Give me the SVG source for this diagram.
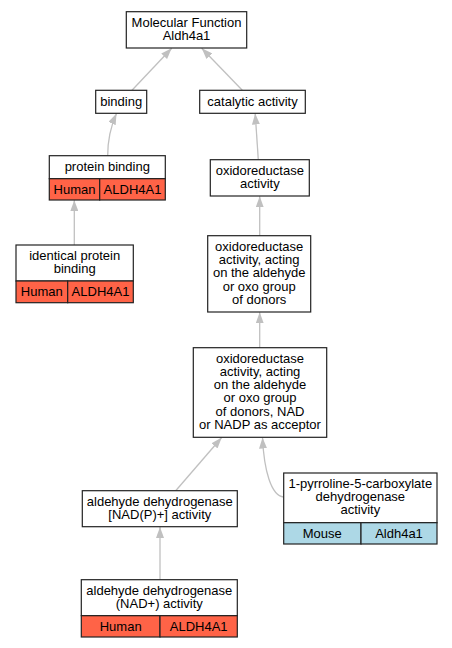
<svg xmlns="http://www.w3.org/2000/svg" width="452" height="648" viewBox="0 0 452 648">
<style>
text{font-family:"Liberation Sans",Arial,sans-serif;font-size:13px;fill:#000;text-anchor:middle}
.box{fill:#fff;stroke:#222;stroke-width:1.2}
.red{fill:#ff6347;stroke:#222;stroke-width:1.2}
.blue{fill:#add8e6;stroke:#222;stroke-width:1.2}
.edge{fill:none;stroke:#c0c0c0;stroke-width:1.3}
</style>
<defs>
<marker id="arr" markerUnits="userSpaceOnUse" markerWidth="11" markerHeight="8" refX="11" refY="4" orient="auto">
<path d="M0,0 L11,4 L0,8 z" fill="#c0c0c0"/>
</marker>
</defs>
<rect width="452" height="648" fill="#fff"/>
<g id="edges">
<path class="edge" marker-end="url(#arr)" d="M132,90.3 L171.7,48.3"/>
<path class="edge" marker-end="url(#arr)" d="M242.3,90.3 L201.7,48.3"/>
<path class="edge" marker-end="url(#arr)" d="M107.7,155.7 C107.7,140 110,128 116.5,113.5"/>
<path class="edge" marker-end="url(#arr)" d="M258.3,159.7 L255.2,113.5"/>
<path class="edge" marker-end="url(#arr)" d="M74.3,245 L74.3,200.2"/>
<path class="edge" marker-end="url(#arr)" d="M259.7,235.7 L259.7,196.2"/>
<path class="edge" marker-end="url(#arr)" d="M259.7,347.7 L259.7,312.2"/>
<path class="edge" marker-end="url(#arr)" d="M175.7,490.7 L221.7,437.5"/>
<path class="edge" marker-end="url(#arr)" d="M283.7,497 C271,496 264,470 262.5,437.5"/>
<path class="edge" marker-end="url(#arr)" d="M160,579.7 L160,527"/>
</g>
<g id="n_mf">
<rect class="box" x="126.3" y="11.7" width="120.4" height="36.3"/>
<text x="186.5" y="26.5">Molecular Function</text>
<text x="186.5" y="39.5">Aldh4a1</text>
</g>
<g id="n_binding">
<rect class="box" x="95.7" y="90.3" width="51" height="23"/>
<text x="121.2" y="106">binding</text>
</g>
<g id="n_catalytic">
<rect class="box" x="199.7" y="90.3" width="105.6" height="23"/>
<text x="252.5" y="106">catalytic activity</text>
</g>
<g id="n_protein_binding">
<rect class="box" x="49.3" y="155.7" width="116" height="23"/>
<rect class="red" x="49.3" y="178.7" width="50.4" height="21.3"/>
<rect class="red" x="99.7" y="178.7" width="65.6" height="21.3"/>
<text x="107.3" y="170.5">protein binding</text>
<text x="74.5" y="193.5">Human</text>
<text x="132.5" y="193.5">ALDH4A1</text>
</g>
<g id="n_oxido">
<rect class="box" x="210.3" y="159.7" width="99" height="36.3"/>
<text x="259.8" y="174.5">oxidoreductase</text>
<text x="259.8" y="187.8">activity</text>
</g>
<g id="n_identical">
<rect class="box" x="16" y="245" width="117.3" height="36"/>
<rect class="red" x="16" y="281" width="51.7" height="21.7"/>
<rect class="red" x="67.7" y="281" width="65.6" height="21.7"/>
<text x="74.7" y="259.8">identical protein</text>
<text x="74.7" y="273.3">binding</text>
<text x="41.8" y="296.3">Human</text>
<text x="100.5" y="296.3">ALDH4A1</text>
</g>
<g id="n_acting">
<rect class="box" x="207.7" y="235.7" width="103" height="76.3"/>
<text x="259.2" y="250.8">oxidoreductase</text>
<text x="259.2" y="264.1">activity, acting</text>
<text x="259.2" y="277.4">on the aldehyde</text>
<text x="259.2" y="290.7">or oxo group</text>
<text x="259.2" y="304">of donors</text>
</g>
<g id="n_nad_acceptor">
<rect class="box" x="193.3" y="347.7" width="133.4" height="89.6"/>
<text x="260" y="362.5">oxidoreductase</text>
<text x="260" y="375.8">activity, acting</text>
<text x="260" y="389.1">on the aldehyde</text>
<text x="260" y="402.4">or oxo group</text>
<text x="260" y="415.7">of donors, NAD</text>
<text x="260" y="429">or NADP as acceptor</text>
</g>
<g id="n_nadp">
<rect class="box" x="82.3" y="490.7" width="155" height="36"/>
<text x="159.8" y="505.5">aldehyde dehydrogenase</text>
<text x="159.8" y="518.5">[NAD(P)+] activity</text>
</g>
<g id="n_p5c">
<rect class="box" x="283.7" y="473" width="153.3" height="49.7"/>
<rect class="blue" x="283.7" y="522.7" width="77.3" height="21.3"/>
<rect class="blue" x="361" y="522.7" width="76" height="21.3"/>
<text x="360.3" y="487.5">1-pyrroline-5-carboxylate</text>
<text x="360.3" y="500.8">dehydrogenase</text>
<text x="360.3" y="514">activity</text>
<text x="322.3" y="538">Mouse</text>
<text x="399" y="538">Aldh4a1</text>
</g>
<g id="n_nadplus">
<rect class="box" x="81.3" y="579.7" width="156" height="36"/>
<rect class="red" x="81.3" y="615.7" width="78.7" height="21.3"/>
<rect class="red" x="160" y="615.7" width="77.3" height="21.3"/>
<text x="159.3" y="594.8">aldehyde dehydrogenase</text>
<text x="159.3" y="608">(NAD+) activity</text>
<text x="120.7" y="631">Human</text>
<text x="198.7" y="631">ALDH4A1</text>
</g>
</svg>
